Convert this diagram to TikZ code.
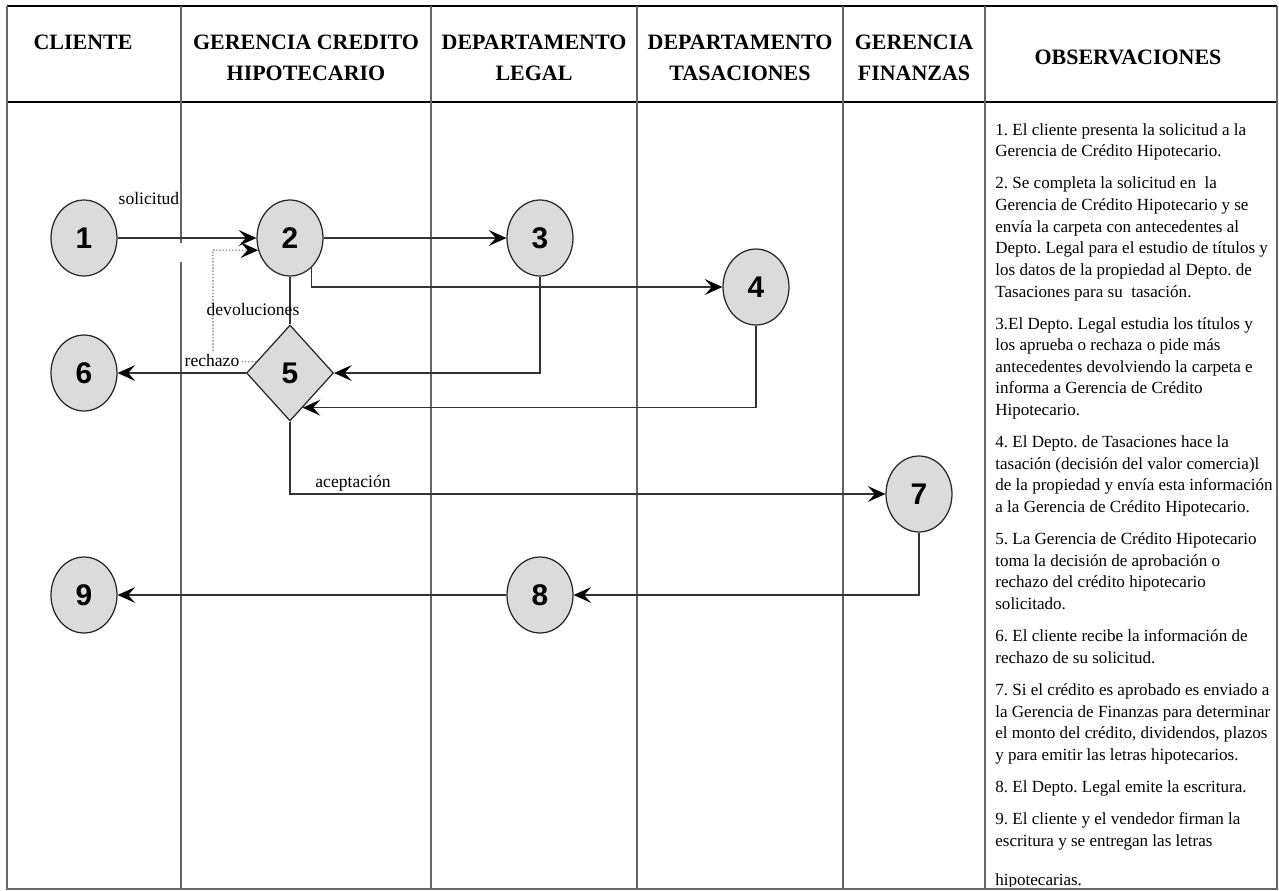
\documentclass[tikz,border=0pt]{standalone}
\usepackage{fontspec}
\setmainfont{Liberation Serif}
\newfontfamily\numfont{Liberation Sans}
\usetikzlibrary{shapes.geometric,arrows.meta}

\begin{document}
\begin{tikzpicture}[x=0.02cm,y=-0.02cm,
  paso/.style={ellipse,draw=black!85,line width=0.7pt,fill=black!14,minimum width=1.32cm,minimum height=1.52cm,inner sep=0pt,font=\numfont\bfseries\fontsize{17}{17}\selectfont},
  decision/.style={diamond,draw=black!85,line width=0.7pt,fill=black!14,minimum width=1.74cm,minimum height=1.92cm,inner sep=0pt,aspect=0.9,font=\numfont\bfseries\fontsize{17}{17}\selectfont},
  enlace/.style={draw=black!80,line width=0.8pt},
  flujo/.style={enlace,-{Stealth[length=10pt,width=9pt,inset=4pt,color=black]}},
  linea/.style={draw=black!60,line width=1pt},
  titulo/.style={font=\bfseries\fontsize{12.5}{17.6}\selectfont,align=center,inner sep=0pt},
  etiqueta/.style={font=\fontsize{10}{12}\selectfont,inner sep=0.5pt}]
\useasboundingbox (0,0) rectangle (1279,890);

% marco y columnas
\draw[line width=1.1pt] (7,6) -- (1277,6);
\draw[line width=1.1pt] (7,102) -- (1277,102);
\draw[linea] (7,6) -- (7,889) -- (1277,889) -- (1277,6);
\draw[linea] (181,6) -- (181,243) (181,262) -- (181,889);
\foreach \x in {431,637,843,985}
  \draw[linea] (\x,6) -- (\x,889);

\node[titulo] (h1) at (83,42) {CLIENTE};
\node[titulo] (h2) at (306,58) {GERENCIA CREDITO\\HIPOTECARIO};
\node[titulo] (h3) at (534,58) {DEPARTAMENTO\\LEGAL};
\node[titulo] (h4) at (740,58) {DEPARTAMENTO\\TASACIONES};
\node[titulo] (h5) at (914,58) {GERENCIA\\FINANZAS};
\node[titulo] (h6) at (1128,57) {OBSERVACIONES};

\node[paso] (v1) at (84,238) {1};
\node[paso] (v2) at (290,238) {2};
\node[paso] (v3) at (540,238) {3};
\node[paso] (v4) at (756,287) {4};
\node[decision] (v5) at (290,373) {5};
\node[paso] (v6) at (84,373) {6};
\node[paso] (v7) at (919,494) {7};
\node[paso] (v8) at (540,595) {8};
\node[paso] (v9) at (84,595) {9};
\coordinate (d1) at (213,250);

\draw[flujo] (v1) -- (v2);
\draw[flujo] (v2) -- (v3);
\draw[flujo] (v2.-54) |- (v4);
\draw[enlace] (v2) -- (v5);
\draw[flujo] (v3) |- (v5);
\draw[flujo] (v4) |- (v5.-70);
\draw[flujo] (v5) -- (v6);
\draw[flujo] (v5) |- (v7);
\draw[flujo] (v7) |- (v8);
\draw[flujo] (v8) -- (v9);
\draw[flujo,densely dotted,draw=black!55,line width=0.6pt] (v5.162) -| (d1) -- (v2.201);

\node[etiqueta] (l1) at (149,198) {solicitud};
\node[etiqueta] (l2) at (253,309) {devoluciones};
\node[etiqueta,fill=white] (l3) at (212,360) {rechazo};
\node[etiqueta] (l4) at (353,483) {aceptación};

\begin{scope}
\clip (985,102) rectangle (1277,886);
\node[anchor=north west,align=left,inner sep=0pt,font=\fontsize{9.7}{12.3}\selectfont\frenchspacing] (obs) at (995,123) {%
1. El cliente presenta la solicitud a la\\
Gerencia de Crédito Hipotecario.\\[6pt]
2. Se completa la solicitud en~ la\\
Gerencia de Crédito Hipotecario y se\\
envía la carpeta con antecedentes al\\
Depto. Legal para el estudio de títulos y\\
los datos de la propiedad al Depto. de\\
Tasaciones para su~ tasación.\\[6pt]
3.El Depto. Legal estudia los títulos y\\
los aprueba o rechaza o pide más\\
antecedentes devolviendo la carpeta e\\
informa a Gerencia de Crédito\\
Hipotecario.\\[6pt]
4. El Depto. de Tasaciones hace la\\
tasación (decisión del valor comercia)l\\
de la propiedad y envía esta información\\
a la Gerencia de Crédito Hipotecario.\\[6pt]
5. La Gerencia de Crédito Hipotecario\\
toma la decisión de aprobación o\\
rechazo del crédito hipotecario\\
solicitado.\\[6pt]
6. El cliente recibe la información de\\
rechazo de su solicitud.\\[6pt]
7. Si el crédito es aprobado es enviado a\\
la Gerencia de Finanzas para determinar\\
el monto del crédito, dividendos, plazos\\
y para emitir las letras hipotecarios.\\[6pt]
8. El Depto. Legal emite la escritura.\\[6pt]
9. El cliente y el vendedor firman la\\
escritura y se entregan las letras\\[10pt]
hipotecarias.};
\end{scope}
\end{tikzpicture}
\end{document}
